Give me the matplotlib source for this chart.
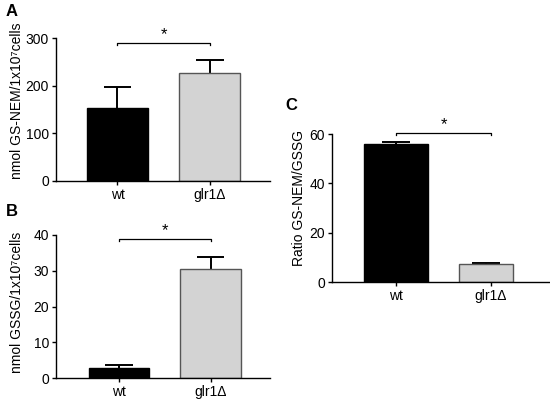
import matplotlib
matplotlib.use("Agg")
import matplotlib.pyplot as plt

plt.rcParams['font.family'] = ['Liberation Sans', 'DejaVu Sans']

categories = ["wt", "glr1Δ"]
gsnem_vals = [154, 226]
gsnem_err = [43, 27]
gssg_vals = [2.8, 30.6]
gssg_err = [0.8, 3.2]
ratio_vals = [55.9, 7.3]
ratio_err = [1.0, 0.4]

W, H = 550, 403
fig = plt.figure(figsize=(W / 100, H / 100), dpi=100)

def px_axes(left, right, top, bottom):
    return fig.add_axes([left / W, (H - bottom) / H, (right - left) / W, (bottom - top) / H])

colors = ["black", "#d3d3d3"]
edges = ["black", "#555555"]

def panel(ax, vals, errs, ymax, yticks, ylabel, xlim, xpos, widths, caphalf, label_xy, sig_y):
    for i in range(2):
        ax.bar(xpos[i], vals[i], width=widths[i], color=colors[i], edgecolor=edges[i],
               linewidth=1.0, zorder=2)
        top = vals[i] + errs[i]
        ax.plot([xpos[i], xpos[i]], [vals[i], top], color='black', lw=1.4, zorder=1,
                solid_capstyle='butt')
        ax.plot([xpos[i] - caphalf, xpos[i] + caphalf], [top, top], color='black', lw=1.4,
                zorder=1, solid_capstyle='butt')
    ax.set_xlim(*xlim)
    ax.set_ylim(0, ymax)
    ax.set_yticks(yticks)
    ax.set_xticks([0, 1])
    ax.set_xticklabels(categories)
    for s in ['top', 'right']:
        ax.spines[s].set_visible(False)
    ax.spines['left'].set_linewidth(1.0)
    ax.spines['bottom'].set_linewidth(1.0)
    ax.tick_params(axis='both', labelsize=10, length=3, width=1.0, pad=2)
    ax.set_ylabel(ylabel, fontsize=10)
    ax.yaxis.set_label_coords(*label_xy)
    tick = ymax * 0.015
    ax.plot([0, 0, 1, 1], [sig_y - tick, sig_y, sig_y, sig_y - tick], color='black',
            lw=0.9, clip_on=False)
    ax.text(0.5, sig_y + ymax * 0.005, "*", ha='center', va='bottom', fontsize=12)

axA = px_axes(56, 270, 38, 181)
panel(axA, gsnem_vals, gsnem_err, 300, [0, 100, 200, 300],
      "nmol GS-NEM/1x10⁷cells", (-0.665, 1.649), [0, 1], [0.66, 0.66], 0.15,
      (-0.15, 0.56), 290)

axB = px_axes(56, 270, 235, 378)
panel(axB, gssg_vals, gssg_err, 40, [0, 10, 20, 30, 40],
      "nmol GSSG/1x10⁷cells", (-0.69, 1.65), [0, 1], [0.66, 0.66], 0.15,
      (-0.15, 0.53), 38.8)

axC = px_axes(332, 549, 134, 282)
panel(axC, ratio_vals, ratio_err, 60, [0, 20, 40, 60],
      "Ratio GS-NEM/GSSG", (-0.674, 1.61), [0, 0.947], [0.674, 0.568], 0.15,
      (-0.12, 0.57), 60.5)

fig.text(6 / W, 1 - 12 / H, "A", fontsize=12, fontweight='bold', va='center', ha='left')
fig.text(6 / W, 1 - 212 / H, "B", fontsize=12, fontweight='bold', va='center', ha='left')
fig.text(285 / W, 1 - 105 / H, "C", fontsize=12, fontweight='bold', va='center', ha='left')

fig.savefig("out.png", dpi=100, facecolor='white')
